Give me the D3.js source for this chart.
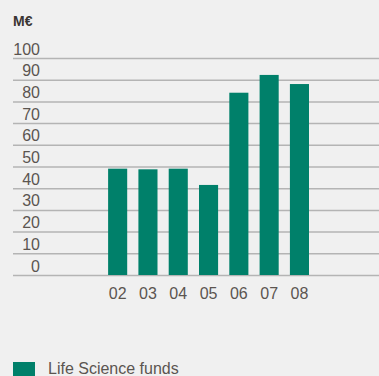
<!DOCTYPE html>
<html>
<head>
<meta charset="utf-8">
<script src="https://cdn.jsdelivr.net/npm/d3@7"></script>
<style>
  html, body { margin: 0; padding: 0; background: #f0f0f0; }
  svg { display: block; }
  text { font-family: "Liberation Sans", Arial, sans-serif; }
</style>
</head>
<body>
<svg id="chart" width="379" height="376"></svg>
<script>
// Life Science funds, M€ per year
const years = ["02", "03", "04", "05", "06", "07", "08"];
const values = [49, 48.7, 49, 41.5, 84, 92.2, 88];
const yTicks = [0, 10, 20, 30, 40, 50, 60, 70, 80, 90, 100];
const unitLabel = "M€";
const seriesName = "Life Science funds";

const svg = d3.select("#chart");
const green = "#00806a";
const textGrey = "#5b5550";

const y = d3.scaleLinear().domain([0, 100]).range([275, 58]);
const x = d3.scaleBand().domain(years)
  .range([102.5, 314.6]).paddingInner(0.37).paddingOuter(0.185);

// unit title
svg.append("text")
  .attr("x", 13).attr("y", 26)
  .attr("font-size", 14).attr("font-weight", "bold")
  .attr("fill", "#3a3532")
  .text(unitLabel);

// horizontal gridlines with labels sitting above each line
const yAxis = d3.axisLeft(y).tickValues(yTicks)
  .tickSize(-(379 - 13)).tickPadding(0);
const gy = svg.append("g").attr("transform", "translate(13,0)").call(yAxis);
gy.select(".domain").remove();
gy.selectAll(".tick line")
  .attr("stroke", "#b4b4b4").attr("stroke-width", 1.5);
gy.selectAll(".tick text")
  .attr("x", 27).attr("dy", -4).attr("dominant-baseline", "auto")
  .attr("text-anchor", "end")
  .attr("font-size", 16).attr("fill", textGrey)
  .style("font-family", "'Liberation Sans', Arial, sans-serif");

// bars
svg.append("g").selectAll("rect")
  .data(years.map((yr, i) => ({ yr, v: values[i] })))
  .join("rect")
  .attr("x", d => x(d.yr))
  .attr("width", x.bandwidth())
  .attr("y", d => y(d.v))
  .attr("height", d => y(0) - y(d.v))
  .attr("fill", green);

// year labels
const xAxis = d3.axisBottom(x).tickSize(0).tickPadding(0);
const gx = svg.append("g").attr("transform", "translate(0,275)").call(xAxis);
gx.select(".domain").remove();
gx.selectAll(".tick text")
  .attr("y", 24).attr("dy", 0)
  .attr("font-size", 16).attr("fill", textGrey)
  .style("font-family", "'Liberation Sans', Arial, sans-serif");

// legend
svg.append("rect")
  .attr("x", 13).attr("y", 362).attr("width", 22).attr("height", 14)
  .attr("fill", green);
svg.append("text")
  .attr("x", 48).attr("y", 374)
  .attr("font-size", 16).attr("fill", textGrey)
  .text(seriesName);
</script>
</body>
</html>
